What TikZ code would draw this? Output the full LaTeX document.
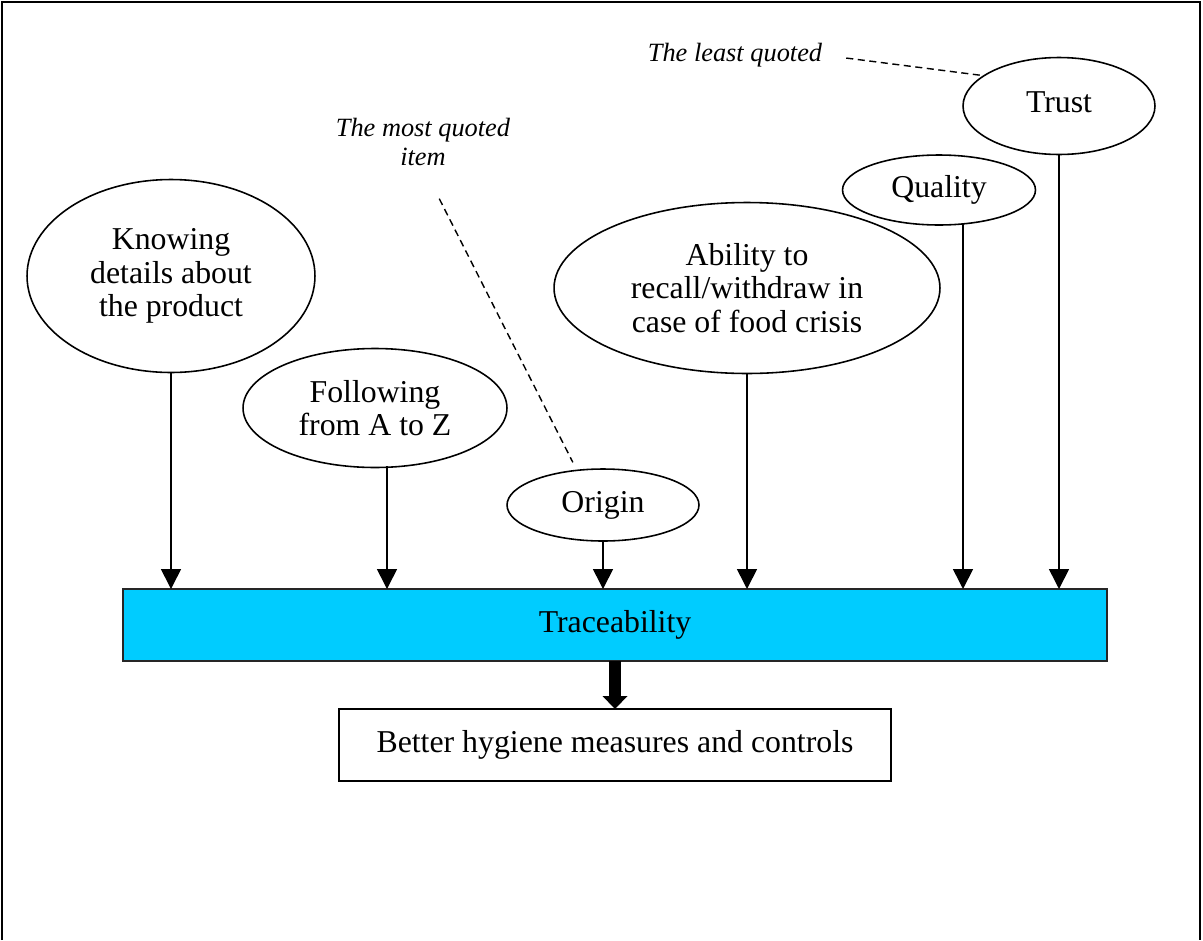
\documentclass[tikz,border=0pt]{standalone}
\usepackage{fontspec}
\setmainfont{Liberation Serif}
\usepackage{xcolor}
\usetikzlibrary{arrows.meta,shapes.geometric}
\definecolor{tracecyan}{HTML}{00CCFF}
\newcommand{\itemfont}{\fontsize{18.1pt}{19pt}\selectfont}
\newcommand{\notefont}{\fontsize{15pt}{17pt}\selectfont\itshape}
\tikzset{
  item/.style={draw=black, ellipse, line width=0.9pt, inner sep=0pt, outer sep=0pt,
    align=center, font=\itemfont},
  hub/.style={draw=black!85, fill=tracecyan, line width=0.9pt, outer sep=0pt,
    minimum width=19.68cm, minimum height=1.44cm, font=\itemfont},
  outcome/.style={draw=black, fill=white, line width=0.9pt, outer sep=0pt,
    minimum width=11.04cm, minimum height=1.44cm, font=\itemfont},
  arr/.style={-{Triangle[length=0.4cm, width=0.4cm]}, line width=0.9pt},
  bigarr/.style={-{Triangle[length=0.26cm, width=0.5cm, line width=0pt]}, line width=0.24cm},
  note/.style={font=\notefont, align=center, inner sep=0pt},
  notelink/.style={dash pattern=on 4pt off 2.6pt, line width=0.8pt},
  frame/.style={line width=0.9pt},
}

\begin{document}
\begin{tikzpicture}[x=0.02cm, y=-0.02cm]
\fill[white] (0,0) rectangle (1203,940);
\useasboundingbox (0,0) rectangle (1203,940);
\draw[frame] (2,940) -- (2,2) -- (1200,2) -- (1200,940);

% what traceability means to the respondents
\node[item, minimum width=5.76cm, minimum height=3.86cm] (knowing) at (171,276) {Knowing\\details about\\the product};
\node[item, minimum width=5.28cm, minimum height=2.38cm] (follow) at (375,408) {Following\\from A to Z};
\node[item, minimum width=3.84cm, minimum height=1.44cm] (origin) at (603,505) {Origin};
\node[item, minimum width=7.72cm, minimum height=3.42cm] (ability) at (747,288) {Ability to\\recall/withdraw in\\case of food crisis};
\node[item, minimum width=3.86cm, minimum height=1.40cm] (quality) at (939,190) {Quality};
\node[item, minimum width=3.84cm, minimum height=1.94cm, text depth=0.4em] (trust) at (1059,106) {Trust};

\node[hub] (hub) at (615,625) {Traceability};
\node[outcome] (outcome) at (615,745) {Better hygiene measures and controls};

% notes
\node[note] (least) at (735,55) {The least quoted};
\node[note] (most) at (423,142) {The most quoted\\item};

% off-centre drops
\coordinate (followdrop) at (387,466);
\coordinate (qualitydrop) at (963,224);

\draw[arr] (knowing.south) -- (knowing.south |- hub.north);
\draw[arr] (followdrop) -- (followdrop |- hub.north);
\draw[arr] (origin.south) -- (origin.south |- hub.north);
\draw[arr] (ability.south) -- (ability.south |- hub.north);
\draw[arr] (qualitydrop) -- (qualitydrop |- hub.north);
\draw[arr] (trust.south) -- (trust.south |- hub.north);
\draw[bigarr] (hub.south) -- (outcome.north);

\draw[notelink, shorten <=0.48cm] (least.east) -- (trust.158);
\draw[notelink, shorten <=0.72cm, shorten >=0.18cm] (most.south) -- (origin.127.4);
\end{tikzpicture}
\end{document}
